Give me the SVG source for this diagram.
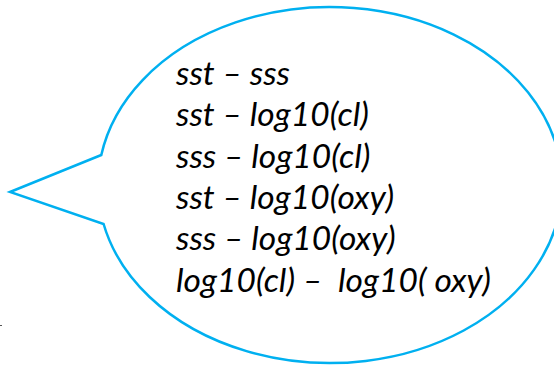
<svg xmlns="http://www.w3.org/2000/svg" width="554" height="366" viewBox="0 0 554 366">
<style>
.bubble{fill:#ffffff;stroke:#00b0f0;stroke-width:2.5;stroke-linejoin:miter}
.t{font-family:Lato,"Liberation Sans",sans-serif;font-style:italic;font-size:33.5px;fill:#000;white-space:pre}
</style>
<rect width="554" height="366" fill="#fff"/>
<g id="callout">
<path class="bubble" d="M101.3,155 A232,178 0 1,1 103.6,224 L10,192 Z"/>
<text class="t" x="176" y="85">sst – sss</text>
<text class="t" x="176" y="126">sst – log10(cl)</text>
<text class="t" x="176" y="168">sss – log10(cl)</text>
<text class="t" x="176" y="209">sst – log10(oxy)</text>
<text class="t" x="176" y="250">sss – log10(oxy)</text>
<text class="t" x="176" y="292" xml:space="preserve">log10(cl) –  log10( oxy)</text>
</g>
<rect x="0" y="325" width="2" height="1" fill="#555"/>
</svg>
